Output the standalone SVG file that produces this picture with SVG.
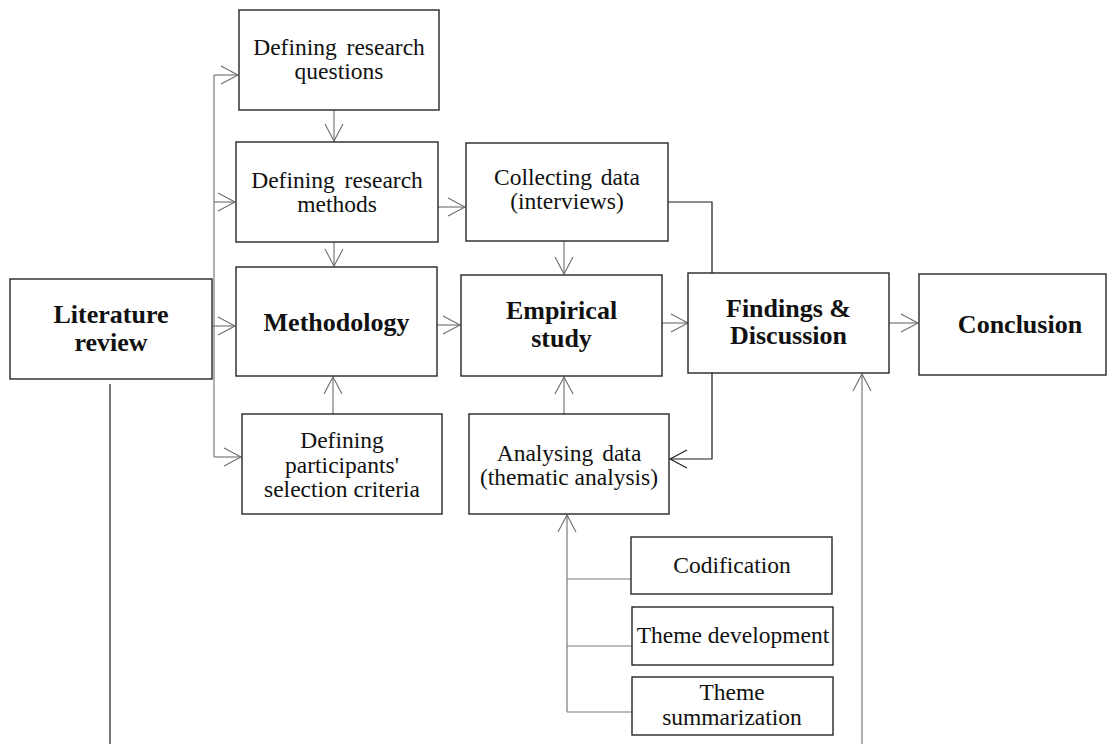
<svg xmlns="http://www.w3.org/2000/svg" width="1118" height="744" viewBox="0 0 1118 744">
  <style>
    .box { fill: #ffffff; stroke: #262626; stroke-width: 1.4; }
    .t { font-family: "Liberation Serif", "Times New Roman", serif; font-size: 23.5px; fill: #111; text-anchor: middle; }
    .b { font-family: "Liberation Serif", "Times New Roman", serif; font-size: 26px; font-weight: bold; fill: #111; text-anchor: middle; }
    .g { fill: none; stroke: #7a7a7a; stroke-width: 1.2; }
    .k { fill: none; stroke: #1a1a1a; stroke-width: 1.2; }
  </style>
  <defs>
    <marker id="ag" markerUnits="userSpaceOnUse" viewBox="-19 -11 21 22" markerWidth="21" markerHeight="22" refX="0" refY="0" orient="auto">
      <path d="M-17,-9 L0,0 L-17,9" fill="none" stroke="#6e6e6e" stroke-width="1.1"/>
    </marker>
    <marker id="ak" markerUnits="userSpaceOnUse" viewBox="-19 -11 21 22" markerWidth="21" markerHeight="22" refX="0" refY="0" orient="auto">
      <path d="M-17,-9 L0,0 L-17,9" fill="none" stroke="#1a1a1a" stroke-width="1.1"/>
    </marker>
  </defs>
  <rect width="1118" height="744" fill="#ffffff"/>

  <g id="connectors">
    <!-- feed from literature review into the planning steps -->
    <path class="g" d="M214,75 L214,457"/>
    <path class="g" d="M214,75 L238,75" marker-end="url(#ag)"/>
    <path class="g" d="M214,202 L235,202" marker-end="url(#ag)"/>
    <path class="g" d="M212,326 L235,326" marker-end="url(#ag)"/>
    <path class="g" d="M214,457 L241,457" marker-end="url(#ag)"/>
    <path class="k" d="M110,384 L110,744"/>

    <!-- vertical flow in the method column -->
    <path class="g" d="M334,110 L334,141" marker-end="url(#ag)"/>
    <path class="g" d="M334,242 L334,266" marker-end="url(#ag)"/>
    <path class="g" d="M333,414 L333,377" marker-end="url(#ag)"/>

    <!-- horizontal main flow -->
    <path class="g" d="M438,207 L465,207" marker-end="url(#ag)"/>
    <path class="g" d="M437,325 L460,325" marker-end="url(#ag)"/>
    <path class="g" d="M662,323 L688,323" marker-end="url(#ag)"/>
    <path class="g" d="M889,323 L918,323" marker-end="url(#ag)"/>

    <!-- empirical column -->
    <path class="g" d="M564,241 L564,274" marker-end="url(#ag)"/>
    <path class="g" d="M564,414 L564,377" marker-end="url(#ag)"/>

    <!-- links with findings -->
    <path class="k" d="M668,202 L712,202 L712,273"/>
    <path class="k" d="M712,373 L712,459 L670,459" marker-end="url(#ak)"/>
    <path class="g" d="M862,744 L862,374" marker-end="url(#ag)"/>

    <!-- thematic analysis sub-steps -->
    <path class="g" d="M567,712 L567,515" marker-end="url(#ag)"/>
    <path class="g" d="M567,579 L631,579"/>
    <path class="g" d="M567,646 L632,646"/>
    <path class="g" d="M567,712 L632,712"/>
  </g>

  <g id="literature-review">
    <rect class="box" x="10" y="279" width="202" height="100"/>
    <text class="b" x="111" y="323">Literature</text>
    <text class="b" x="111" y="351">review</text>
  </g>

  <g id="research-questions">
    <rect class="box" x="239" y="10" width="200" height="100"/>
    <text class="t" x="339" y="55" word-spacing="4">Defining research</text>
    <text class="t" x="339" y="79">questions</text>
  </g>

  <g id="research-methods">
    <rect class="box" x="236" y="142" width="202" height="100"/>
    <text class="t" x="337" y="188" word-spacing="4">Defining research</text>
    <text class="t" x="337" y="212">methods</text>
  </g>

  <g id="methodology">
    <rect class="box" x="236" y="267" width="201" height="109"/>
    <text class="b" x="336.5" y="331">Methodology</text>
  </g>

  <g id="selection-criteria">
    <rect class="box" x="242" y="414" width="200" height="100"/>
    <text class="t" x="342" y="448">Defining</text>
    <text class="t" x="342" y="473">participants'</text>
    <text class="t" x="342" y="497">selection criteria</text>
  </g>

  <g id="collecting-data">
    <rect class="box" x="466" y="143" width="202" height="98"/>
    <text class="t" x="567" y="185" word-spacing="3">Collecting data</text>
    <text class="t" x="567" y="209">(interviews)</text>
  </g>

  <g id="empirical-study">
    <rect class="box" x="461" y="275" width="201" height="101"/>
    <text class="b" x="561.5" y="319">Empirical</text>
    <text class="b" x="561.5" y="347">study</text>
  </g>

  <g id="analysing-data">
    <rect class="box" x="469" y="414" width="200" height="100"/>
    <text class="t" x="569" y="461" word-spacing="3">Analysing data</text>
    <text class="t" x="569" y="485">(thematic analysis)</text>
  </g>

  <g id="findings-discussion">
    <rect class="box" x="688" y="273" width="201" height="100"/>
    <text class="b" x="788.5" y="317">Findings &amp;</text>
    <text class="b" x="788.5" y="344">Discussion</text>
  </g>

  <g id="conclusion">
    <rect class="box" x="919" y="274" width="187" height="101"/>
    <text class="b" x="1020" y="333">Conclusion</text>
  </g>

  <g id="codification">
    <rect class="box" x="631" y="537" width="201" height="57"/>
    <text class="t" x="732" y="573">Codification</text>
  </g>

  <g id="theme-development">
    <rect class="box" x="632" y="607" width="201" height="58"/>
    <text class="t" x="733" y="643">Theme development</text>
  </g>

  <g id="theme-summarization">
    <rect class="box" x="632" y="677" width="201" height="58"/>
    <text class="t" x="732" y="700">Theme</text>
    <text class="t" x="732" y="725">summarization</text>
  </g>
</svg>
